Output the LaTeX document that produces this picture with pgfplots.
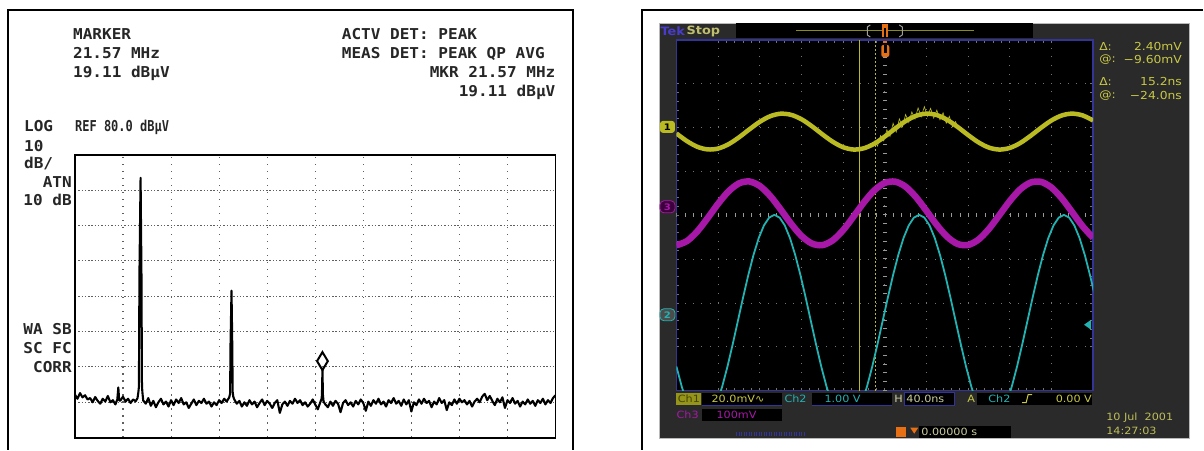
\documentclass[border=0pt]{standalone}
\usepackage{fontspec}
\usepackage{pgfplots}
\pgfplotsset{compat=1.18}
\setmainfont{DejaVu Sans}
\newfontfamily\sa[FakeStretch=1.07]{DejaVu Sans Mono}
\newfontfamily\san[FakeStretch=0.8]{DejaVu Sans Mono}
\newfontfamily\tek[FakeStretch=1.12]{DejaVu Sans}
\definecolor{tyel}{RGB}{186,186,34}
\definecolor{ttxt}{RGB}{200,200,70}
\definecolor{tpale}{RGB}{205,205,160}
\definecolor{tmag}{RGB}{168,24,168}
\definecolor{tcyan}{RGB}{34,178,178}
\definecolor{tgray}{RGB}{42,42,42}
\definecolor{tblue}{RGB}{52,52,150}
\definecolor{torange}{RGB}{232,112,20}
\definecolor{tgrid}{RGB}{115,115,115}
\definecolor{sgrid}{RGB}{95,95,95}
\begin{document}
\begin{tikzpicture}[x=1pt,y=1pt]
% ---------- frames and screen background (y measured downwards) ----------
\begin{scope}[shift={(0,450)},yscale=-1]
\draw[line width=2pt,black] (8,450)--(8,10)--(573,10)--(573,450);
\draw[line width=2pt,black] (643,450)--(643,10)--(1204,10);
\fill[tgray] (660,23) rectangle (1190,439);
\draw[gray!55,line width=0.8pt] (660,23) rectangle (1190,439);
\fill[black] (737,23) rectangle (1034,38);
\draw[tyel!75!black,line width=1pt] (797,30.5)--(975,30.5);
\draw[gray!75,line width=1pt] (871,25)--(868,27)--(868,35)--(871,37);
\draw[gray!75,line width=1pt] (900,25)--(903,27)--(903,35)--(900,37);
\fill[torange] (883,24) rectangle (889,37);
\fill[black] (885,28) rectangle (887,37);
\end{scope}
% ---------- spectrum analyser ----------
\begin{axis}[at={(75pt,12pt)},anchor=south west,scale only axis,
  width=481pt,height=283pt,xmin=2,xmax=40,ymin=0,ymax=80,
  xtick={5.8,9.6,13.4,17.2,21,24.8,28.6,32.4,36.2},ytick={10,20,...,70},
  xticklabels={},yticklabels={},major tick length=0pt,tick style={draw=none},
  grid=major,
  major x grid style={draw=sgrid,line width=1.1pt,dash pattern=on 1.2pt off 5.8pt},
  major y grid style={draw=sgrid,line width=0.9pt,dash pattern=on 1.4pt off 1.9pt},
  axis line style={line width=1.8pt,black}]
\addplot[black,line width=2.1pt,line join=round] coordinates {
(2.0,12.2) (2.2,11.0) (2.4,12.6) (2.6,11.4) (2.8,12.0) (3.0,10.8) (3.2,11.2) (3.4,10.0)
(3.6,11.5) (3.8,10.4) (4.0,9.6) (4.2,11.0) (4.4,10.2) (4.6,11.8) (4.8,10.0) (5.0,10.6)
(5.2,9.4) (5.35,10.8) (5.43,14.2) (5.5,10.5) (5.6,10.5) (5.8,11.6) (6.0,10.2) (6.2,11.0)
(6.4,9.8) (6.6,10.8) (6.8,10.3) (6.95,11.2) (7.02,13.0) (7.06,14.5) (7.1,46) (7.19,73.5)
(7.26,46) (7.3,14.5) (7.34,12.6) (7.4,10.5) (7.6,9.6) (7.8,11.2) (8.0,9.0) (8.2,10.4)
(8.4,8.6) (8.6,10.0) (8.8,11.0) (9.0,9.4) (9.2,10.2) (9.4,8.8) (9.6,10.6) (9.8,9.2)
(10.0,10.8) (10.2,9.8) (10.4,11.2) (10.6,9.4) (10.8,10.0) (11.0,8.4) (11.2,9.6) (11.4,10.8)
(11.6,9.2) (11.8,10.4) (12.0,9.8) (12.2,11.0) (12.4,9.6) (12.6,10.2) (12.8,8.8) (13.0,10.0)
(13.2,9.2) (13.4,10.6) (13.6,9.8) (13.8,11.0) (14.0,10.2) (14.2,11.4) (14.27,12.5) (14.3,26)
(14.38,41.6) (14.44,26) (14.47,13) (14.52,11.6) (14.6,10.8) (14.8,9.6) (15.0,10.4) (15.2,8.8)
(15.4,10.0) (15.6,9.0) (15.8,10.6) (16.0,9.4) (16.2,10.2) (16.4,8.6) (16.6,9.8) (16.8,10.8)
(17.0,9.2) (17.2,10.4) (17.4,9.6) (17.6,8.4) (17.8,9.8) (18.0,10.6) (18.2,7.0) (18.4,9.4)
(18.6,10.2) (18.8,9.0) (19.0,10.4) (19.2,9.6) (19.4,11.0) (19.6,9.8) (19.8,10.6) (20.0,9.2)
(20.2,10.0) (20.4,8.8) (20.6,9.6) (20.8,10.8) (21.0,9.4) (21.2,8.0) (21.4,10.0) (21.5,11.0)
(21.53,12.0) (21.57,19.11) (21.61,12.0) (21.66,10.2) (21.8,9.4) (22.0,8.6) (22.2,10.2) (22.4,9.0)
(22.6,10.4) (22.8,9.6) (23.0,7.2) (23.2,9.8) (23.4,10.6) (23.6,9.2) (23.8,10.0) (24.0,8.8)
(24.2,10.4) (24.4,9.4) (24.6,10.8) (24.8,9.8) (25.0,7.6) (25.2,10.2) (25.4,9.0) (25.6,10.6)
(25.8,9.6) (26.0,11.0) (26.2,9.4) (26.4,10.2) (26.6,8.8) (26.8,10.6) (27.0,9.8) (27.2,11.2)
(27.4,9.6) (27.6,10.4) (27.8,9.0) (28.0,10.8) (28.2,9.4) (28.4,10.6) (28.6,7.4) (28.8,10.0)
(29.0,9.2) (29.2,10.8) (29.4,9.6) (29.6,11.0) (29.8,9.8) (30.0,10.4) (30.2,8.6) (30.4,10.2)
(30.6,9.4) (30.8,11.2) (31.0,9.8) (31.2,10.6) (31.4,7.8) (31.6,10.0) (31.8,9.2) (32.0,10.8)
(32.2,9.6) (32.4,11.0) (32.6,10.0) (32.8,10.6) (33.0,9.4) (33.2,10.4) (33.4,8.8) (33.6,10.2)
(33.8,11.0) (34.0,10.0) (34.2,11.6) (34.4,12.4) (34.6,10.6) (34.8,11.8) (35.0,10.4) (35.2,9.2)
(35.4,11.0) (35.6,10.0) (35.8,11.4) (36.0,8.4) (36.2,10.6) (36.4,9.8) (36.6,11.2) (36.8,9.6)
(37.0,10.4) (37.2,8.8) (37.4,10.2) (37.6,9.4) (37.8,10.8) (38.0,9.6) (38.2,10.4) (38.4,9.0)
(38.6,10.6) (38.8,9.8) (39.0,11.0) (39.2,9.4) (39.4,10.6) (39.6,9.8) (39.8,11.2) (40.0,12.0)};
\addplot[only marks,mark=diamond,mark size=9pt,
  mark options={xscale=0.8,yshift=9pt,line width=2pt,draw=black,fill=white}]
  coordinates {(21.57,19.11)};
\end{axis}
% ---------- oscilloscope ----------
\begin{axis}[at={(677pt,59pt)},anchor=south west,scale only axis,
  width=417pt,height=351pt,xmin=-200,xmax=200,ymin=-4,ymax=4,
  xtick={-160,-120,...,160},ytick={-3,...,3},
  minor x tick num=4,minor y tick num=4,
  xticklabels={},yticklabels={},tick align=inside,
  major tick length=3pt,minor tick length=3pt,
  tick style={draw=tgrid,line width=0.8pt},
  grid=major,
  major x grid style={draw=tgrid,line width=1pt,dash pattern=on 1pt off 7.78pt},
  major y grid style={draw=tgrid,line width=1pt,dash pattern=on 1pt off 7.34pt},
  axis background/.style={fill=black},
  axis line style={draw=tblue,line width=1.3pt}]
\draw[gray!80,line width=4pt,dash pattern=on 0.8pt off 7.54pt] (axis cs:-200,0)--(axis cs:200,0);
\draw[gray!80,line width=4pt,dash pattern=on 0.8pt off 7.98pt] (axis cs:0,-4)--(axis cs:0,4);
\draw[tyel,line width=0.9pt] (axis cs:-24,-4)--(axis cs:-24,4);
\draw[tyel,line width=0.9pt,dash pattern=on 2pt off 2pt] (axis cs:-8.8,-4)--(axis cs:-8.8,4);
% Ch2 (cyan)
\addplot[tcyan,line width=1.8pt,line join=round] coordinates {
(-200,-3.448) (-195,-3.900) (-190,-4.275) (-185,-4.553)
(-166,-4.553) (-161,-4.275) (-156,-3.900) (-151,-3.448) (-146,-2.942) (-141,-2.407)
(-136,-1.871) (-131,-1.360) (-126,-0.902) (-121,-0.518) (-116,-0.230) (-111,-0.051)
(-106,0.010) (-101,-0.051) (-96,-0.230) (-91,-0.518) (-86,-0.902) (-81,-1.360)
(-76,-1.871) (-71,-2.407) (-66,-2.942) (-61,-3.448) (-56,-3.900) (-51,-4.275) (-46,-4.553)
(-27,-4.553) (-22,-4.275) (-17,-3.900) (-12,-3.448) (-7,-2.942) (-2,-2.407)
(3,-1.871) (8,-1.360) (13,-0.902) (18,-0.518) (23,-0.230) (28,-0.051)
(33,0.010) (38,-0.051) (43,-0.230) (48,-0.518) (53,-0.902) (58,-1.360)
(63,-1.871) (68,-2.407) (73,-2.942) (78,-3.448) (83,-3.900) (88,-4.275) (93,-4.553)
(112,-4.553) (117,-4.275) (122,-3.900) (127,-3.448) (132,-2.942) (137,-2.407)
(142,-1.871) (147,-1.360) (152,-0.902) (157,-0.518) (162,-0.230) (167,-0.051)
(172,0.010) (177,-0.051) (182,-0.230) (187,-0.518) (192,-0.902) (197,-1.360) (202,-1.871)};
% Ch3 (magenta)
\addplot[tmag,line width=6.5pt,smooth] coordinates {
(-200,-0.683) (-190,-0.589) (-180,-0.367) (-170,-0.062) (-160,0.264) (-150,0.546)
(-140,0.728) (-130,0.772) (-120,0.670) (-110,0.443) (-100,0.136) (-90,-0.190)
(-80,-0.469) (-70,-0.643) (-60,-0.680) (-50,-0.572) (-40,-0.339) (-30,-0.029)
(-20,0.296) (-10,0.570) (0,0.739) (10,0.768) (20,0.653) (30,0.415) (40,0.103)
(50,-0.221) (60,-0.491) (70,-0.654) (80,-0.676) (90,-0.553) (100,-0.310) (110,0.004)
(120,0.326) (130,0.592) (140,0.748) (150,0.763) (160,0.634) (170,0.386) (180,0.070)
(190,-0.251) (200,-0.513)};
% Ch1 (yellow)
\addplot[tyel,line width=4.5pt,smooth] coordinates {
(-200,1.868) (-190,1.694) (-180,1.564) (-170,1.503) (-160,1.523) (-150,1.622)
(-140,1.778) (-130,1.961) (-120,2.133) (-110,2.261) (-100,2.318) (-90,2.293)
(-80,2.192) (-70,2.033) (-60,1.850) (-50,1.679) (-40,1.554) (-30,1.501) (-20,1.530)
(-10,1.635) (0,1.796) (10,1.979) (20,2.149) (30,2.270) (40,2.320) (50,2.287)
(60,2.178) (70,2.015) (80,1.832) (90,1.664) (100,1.545) (110,1.500) (120,1.537)
(130,1.649) (140,1.814) (150,1.997) (160,2.164) (170,2.279) (180,2.320) (190,2.279)
(200,2.164)};
% Ch1 noise spikes
\addplot[tyel,line width=0.6pt] coordinates {
(-10,1.70) (-7,1.58) (-4,1.82) (-1,1.70) (2,1.95) (5,1.80) (8,2.10) (11,1.90)
(14,2.20) (17,2.02) (20,2.30) (23,2.12) (26,2.36) (29,2.20) (32,2.45) (35,2.25)
(38,2.48) (41,2.26) (44,2.44) (47,2.22) (50,2.40) (53,2.18) (56,2.34) (59,2.10)
(62,2.26) (65,2.02) (68,2.14) (70,2.00)};
\end{axis}
% ---------- texts and markers ----------
\begin{scope}[shift={(0,450)},yscale=-1]
\begin{scope}[every node/.style={inner sep=0pt,text=black!85,font=\sa\bfseries\fontsize{15}{15}\selectfont}]
\node[anchor=base west] at (73,40) {MARKER};
\node[anchor=base west] at (73,59) {21.57 MHz};
\node[anchor=base west] at (73,78) {19.11 dBµV};
\node[anchor=base west] at (342,40) {ACTV DET: PEAK};
\node[anchor=base west] at (342,59) {MEAS DET: PEAK QP AVG};
\node[anchor=base east] at (556,78) {MKR 21.57 MHz};
\node[anchor=base east] at (556,97) {19.11 dBµV};
\node[anchor=base west] at (24,132) {LOG};
\node[anchor=base west,font=\san\bfseries\fontsize{15}{15}\selectfont] at (75,132) {REF 80.0 dBµV};
\node[anchor=base west] at (24,152) {10};
\node[anchor=base west] at (24,169) {dB/};
\node[anchor=base east] at (72,188) {ATN};
\node[anchor=base east] at (72,206) {10 dB};
\node[anchor=base east] at (72,335) {WA SB};
\node[anchor=base east] at (72,354) {SC FC};
\node[anchor=base east] at (72,373) {CORR};
\end{scope}
\begin{scope}[every node/.style={inner sep=0pt,font=\tek\fontsize{10}{10}\selectfont}]
\node[anchor=west,text={rgb,255:red,72;green,60;blue,205},font=\tek\bfseries\fontsize{11.5}{11.5}\selectfont] at (661,31) {Tek};
\node[anchor=west,text={rgb,255:red,190;green,190;blue,110},font=\tek\bfseries\fontsize{11.5}{11.5}\selectfont] at (687,31) {Stop};
\begin{scope}[every node/.style={inner sep=0pt,font=\tek\fontsize{11}{11}\selectfont}]
\node[anchor=west,text=ttxt] at (1100,47) {Δ:};
\node[anchor=east,text=ttxt] at (1183,47) {2.40mV};
\node[anchor=west,text=ttxt] at (1100,60) {@:};
\node[anchor=east,text=ttxt] at (1183,60) {−9.60mV};
\node[anchor=west,text=ttxt] at (1100,82) {Δ:};
\node[anchor=east,text=ttxt] at (1183,82) {15.2ns};
\node[anchor=west,text=ttxt] at (1100,96) {@:};
\node[anchor=east,text=ttxt] at (1183,96) {−24.0ns};
\end{scope}
% bottom row 1
\fill[tyel!80!black] (677,393) rectangle (702,405);
\node[text={rgb,255:red,70;green,70;blue,0}] at (689.5,399) {Ch1};
\fill[black] (703,393) rectangle (783,405);
\draw[tblue,line width=0.8pt] (703,405.5)--(783,405.5);
\node[anchor=west,text=ttxt] at (712,399) {20.0mV∿};
\node[anchor=west,text=tcyan] at (785,399) {Ch2};
\fill[black] (813,393) rectangle (893,405);
\draw[tblue,line width=0.8pt] (813,405.5)--(893,405.5);
\node[anchor=west,text=tcyan] at (825,399) {1.00 V};
\node[anchor=west,text=tpale] at (895,399) {H};
\fill[black] (905,393) rectangle (955,405);
\draw[tblue,line width=0.8pt] (905,393) rectangle (955,405.5);
\node[anchor=west,text=tpale] at (907,399) {40.0ns};
\node[anchor=west,text=ttxt] at (968,399) {A};
\fill[black] (978,393) rectangle (1093,405);
\node[anchor=west,text=tcyan] at (989,399) {Ch2};
\draw[ttxt,line width=1pt] (1023,403)--(1027,403)--(1029,395)--(1033,395);
\node[anchor=east,text=ttxt] at (1093,399) {0.00 V};
% bottom row 2
\node[anchor=west,text=tmag] at (677,415) {Ch3};
\fill[black] (703,409) rectangle (783,421);
\node[anchor=west,text=tmag] at (717,415) {100mV};
% bottom row 3
\draw[tblue,line width=4pt,dash pattern=on 1pt off 1.5pt] (737,434.5)--(807,434.5);
\fill[torange] (897,427) rectangle (907,437);
\fill[torange] (911,428)--(919,428)--(915,434)--cycle;
\fill[black] (920,426) rectangle (1012,438);
\node[anchor=west,text=tpale] at (922,432) {0.00000 s};
\node[anchor=west,text={rgb,255:red,190;green,190;blue,90}] at (1107,418) {10 Jul\ \ 2001};
\node[anchor=west,text={rgb,255:red,190;green,190;blue,90}] at (1107,431) {14:27:03};
% channel ground markers
\node[fill=tyel,text=black,rounded corners=3pt,minimum width=15pt,minimum height=12pt,font=\tek\bfseries\fontsize{9}{9}\selectfont] at (668,127) {1};
\node[fill={rgb,255:red,60;green,0;blue,60},draw=tmag,line width=0.8pt,text=tmag,rounded corners=4pt,minimum width=15pt,minimum height=12pt,font=\tek\bfseries\fontsize{9}{9}\selectfont] at (668,207) {3};
\node[fill=black!70,draw=tcyan,line width=0.8pt,text=tcyan,rounded corners=4pt,minimum width=15pt,minimum height=12pt,font=\tek\bfseries\fontsize{9}{9}\selectfont] at (668,315) {2};
\end{scope}
% trigger markers
\fill[torange,rounded corners=2pt] (882,45) rectangle (890,57);
\fill[black] (884.5,45) rectangle (887.5,53);
\fill[torange] (884,41) rectangle (888,43);
\fill[tcyan] (1092,320)--(1085,325)--(1092,330)--cycle;
\end{scope}
\useasboundingbox (0,0) rectangle (1204,450);
\end{tikzpicture}
\end{document}
